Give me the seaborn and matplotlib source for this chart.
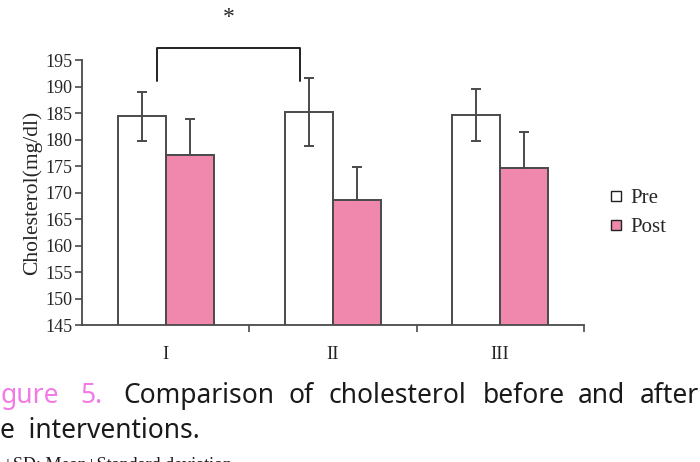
""" Cholesterol before and after the interventions (Figure 5). """

import pandas as pd
import seaborn as sns
from matplotlib import pyplot as plt
from matplotlib.lines import Line2D

groups = ['I', 'II', 'III']
fases = ['Pre', 'Post']
pre_mean = [184.4, 185.2, 184.6]
pre_sd = [4.6, 6.4, 4.9]
post_mean = [177.0, 168.5, 174.7]
post_sd = [6.9, 6.4, 6.8]
yticks = list(range(145, 200, 5))

cores = {'Pre': '#ffffff', 'Post': '#ef88ac'}
cinza = '#4a4a4a'

df = pd.DataFrame({'grupo': groups * 2,
                   'fase': ['Pre'] * 3 + ['Post'] * 3,
                   'colesterol': pre_mean + post_mean,
                   'sd': pre_sd + post_sd})

sns.set_style('white')
plt.rcParams['font.family'] = ['Liberation Serif', 'DejaVu Serif']

fig = plt.figure(figsize=(7, 4.62), dpi=100)
ax = fig.add_axes([0.117, 0.2965, 0.717, 0.5736])

largura = 0.574
sns.barplot(data=df, x='grupo', y='colesterol', hue='fase', hue_order=fases, order=groups,
            palette=cores, saturation=1, width=largura, errorbar=None, edgecolor=cinza,
            linewidth=1.4, legend=False, ax=ax)

# barras de erro (SD): Pre nos dois sentidos, Post só para cima
desloc = largura / 4
for i in range(len(groups)):
    ax.errorbar(i - desloc, pre_mean[i], yerr=pre_sd[i], fmt='none', ecolor=cinza,
                elinewidth=1.4, capsize=3.5, capthick=1.4, zorder=5)
    ax.errorbar(i + desloc, post_mean[i], yerr=[[0], [post_sd[i]]], fmt='none', ecolor=cinza,
                elinewidth=1.4, capsize=3.5, capthick=1.4, zorder=5)

ax.set_xlim(-0.5, 2.5)
ax.set_ylim(145, 195)
ax.set_yticks(yticks)
ax.set_xlabel('')
ax.set_ylabel('Cholesterol(mg/dl)', fontsize=15.5, labelpad=2)
ax.tick_params(axis='y', direction='out', length=5, width=1.2, color=cinza, labelsize=13, pad=2,
               left=True)
ax.tick_params(axis='x', which='major', length=0, labelsize=13.5, pad=15)
ax.set_xticks([0.5, 1.5, 2.5], minor=True)
ax.tick_params(axis='x', which='minor', direction='out', length=5, width=1.2, color=cinza,
               bottom=True)
sns.despine(ax=ax)
for lado in ['left', 'bottom']:
    ax.spines[lado].set_color(cinza)
    ax.spines[lado].set_linewidth(1.3)

# colchete de significância
ax.plot([-0.052, -0.052, 0.803, 0.803], [191.0, 197.3, 197.3, 191.0], color='#222222', lw=1.4,
        clip_on=False)
ax.text(0.375, 203.0, '*', ha='center', va='center', fontsize=17, clip_on=False)

handles = [Line2D([], [], marker='s', ls='none', markersize=7, markerfacecolor=cores[f],
                  markeredgecolor='#222222', markeredgewidth=1.0) for f in fases]
ax.legend(handles, fases, loc='upper left', bbox_to_anchor=(1.03, 0.555), frameon=False,
          fontsize=15, handlelength=0.6, handletextpad=0.4, labelspacing=0.45, borderpad=0)

# legenda da figura (cortada como no original)
cap = ['Noto Sans', 'DejaVu Sans']
linha1 = 1 - 403 / 462
fig.text(0 / 700, linha1, 'gure', color='#f27ae6', fontsize=19, family=cap, va='baseline')
fig.text(80 / 700, linha1, '5.', color='#f27ae6', fontsize=19, family=cap, va='baseline')
for x, palavra in [(123, 'Comparison'), (289, 'of'), (328, 'cholesterol'), (483, 'before'),
                   (578, 'and'), (640, 'after')]:
    fig.text(x / 700, linha1, palavra, color='#1a1a1a', fontsize=19, family=cap, va='baseline')
fig.text(0 / 700, 1 - 438 / 462, 'e  interventions.', color='#1a1a1a', fontsize=19, family=cap,
         va='baseline')
fig.text(3 / 700, 1 - 470 / 462, '±SD: Mean±Standard deviation', color='#1a1a1a', fontsize=13,
         va='baseline')

fig.savefig('out.png', dpi=100)
